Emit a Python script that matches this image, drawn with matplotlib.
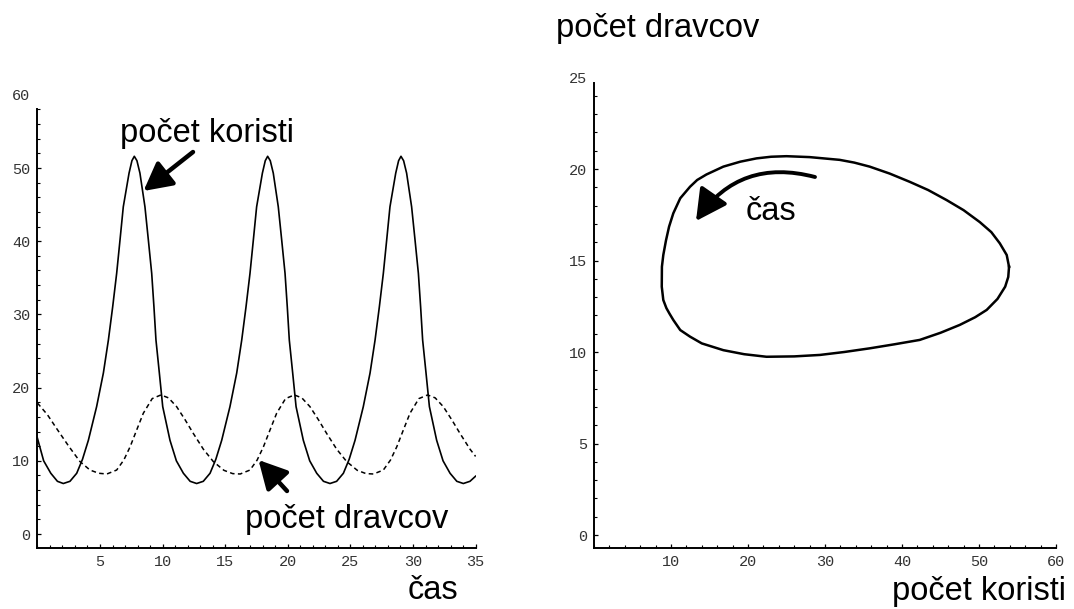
import matplotlib
matplotlib.use("Agg")
import matplotlib.pyplot as plt
from matplotlib.patches import FancyArrowPatch
from matplotlib.ticker import MultipleLocator, FixedLocator

# ---------------- data ----------------
# time series: prey (solid)
prey_t = [0.0, 0.5, 1.07, 1.6, 2.07, 2.6, 3.14, 3.6, 4.07, 4.73, 5.27, 5.67, 6.01, 6.33, 6.60,
          6.86, 7.32, 7.55, 7.74, 7.95, 8.19, 8.59, 8.86, 9.13, 9.31, 9.47, 9.74, 10.01, 10.59,
          11.1, 11.66, 12.2, 12.72,
          13.25, 13.79, 14.25, 14.72, 15.38, 15.92, 16.32, 16.66, 16.98, 17.25, 17.51, 17.97,
          18.2, 18.39, 18.6, 18.84, 19.24, 19.51, 19.78, 19.96, 20.12, 20.39, 20.66, 21.24,
          21.75, 22.31, 22.85, 23.37,
          23.9, 24.44, 24.9, 25.37, 26.03, 26.57, 26.97, 27.31, 27.63, 27.9, 28.16, 28.62,
          28.85, 29.04, 29.25, 29.49, 29.89, 30.16, 30.43, 30.61, 30.77, 31.04, 31.31, 31.89,
          32.4, 32.96, 33.5, 34.02, 34.55, 35.0]
prey_v = [13.1, 10.0, 8.3, 7.2, 6.9, 7.2, 8.3, 10.2, 12.8, 17.4, 22.0, 26.5, 31.0, 35.6, 40.2,
          44.7, 49.3, 51.0, 51.6, 51.0, 49.3, 44.7, 40.2, 35.6, 31.0, 26.5, 22.0, 17.4, 12.8,
          10.0, 8.3, 7.2, 6.9,
          7.2, 8.3, 10.2, 12.8, 17.4, 22.0, 26.5, 31.0, 35.6, 40.2, 44.7, 49.3,
          51.0, 51.6, 51.0, 49.3, 44.7, 40.2, 35.6, 31.0, 26.5, 22.0, 17.4, 12.8,
          10.0, 8.3, 7.2, 6.9,
          7.2, 8.3, 10.2, 12.8, 17.4, 22.0, 26.5, 31.0, 35.6, 40.2, 44.7, 49.3,
          51.0, 51.6, 51.0, 49.3, 44.7, 40.2, 35.6, 31.0, 26.5, 22.0, 17.4, 12.8,
          10.0, 8.3, 7.2, 6.9, 7.2, 7.9]

# time series: predators (dashed)
pred_t = [0.0, 0.8, 1.54, 2.5, 3.4, 4.2, 4.9, 5.55, 6.33, 6.9, 7.4, 7.95, 8.46, 9.17, 9.87, 10.47,
          11.12, 11.8, 12.45, 13.25, 14.05, 14.9, 15.6, 16.2,
          16.98, 17.55, 18.05, 18.6, 19.11, 19.82, 20.52, 21.12, 21.77, 22.45, 23.1, 23.9, 24.7,
          25.55, 26.25, 26.85,
          27.63, 28.2, 28.7, 29.25, 29.76, 30.47, 31.17, 31.77, 32.42, 33.1, 33.75, 34.55, 35.0]
pred_v = [17.9, 16.3, 14.4, 12.0, 9.9, 8.74, 8.3, 8.2, 8.74, 10.1, 11.9, 14.3, 16.5, 18.5, 19.0, 18.6,
          17.4, 15.6, 13.75, 11.6, 9.9, 8.7, 8.25, 8.2,
          8.74, 10.1, 11.9, 14.3, 16.5, 18.5, 19.0, 18.6, 17.4, 15.6, 13.75, 11.6, 9.9,
          8.7, 8.25, 8.2,
          8.74, 10.1, 11.9, 14.3, 16.5, 18.5, 19.0, 18.6, 17.4, 15.6, 13.75, 11.6, 10.6]

# phase portrait: prey (x) vs predators (y)
phase_prey = [53.9, 53.6, 52.7, 51.6, 50.1, 48.0, 45.8, 43.4, 41.0, 38.4, 35.8, 33.8, 31.9, 28.0,
              25.0, 23.0, 21.1, 19.0, 16.8, 14.6, 13.4, 12.47, 11.2, 10.3, 9.75, 9.35, 9.0, 8.82,
              8.8, 9.0, 9.4, 9.8, 10.3, 11.2, 12.47, 14.0, 16.8, 19.5, 22.4, 26.0, 29.35, 32.5,
              35.8, 39.0, 42.3, 45.0, 47.5, 49.5, 51.0, 52.4, 53.4, 53.8, 53.9]
phase_pred = [14.66, 15.3, 15.94, 16.55, 17.1, 17.75, 18.3, 18.85, 19.3, 19.75, 20.13, 20.35, 20.5, 20.65,
              20.7, 20.67, 20.58, 20.4, 20.13, 19.7, 19.4, 19.03, 18.4, 17.58, 16.85, 16.1, 15.3, 14.66,
              13.57, 12.84, 12.4, 12.1, 11.75, 11.2, 10.84, 10.47, 10.1, 9.88, 9.74, 9.76, 9.84, 10.0,
              10.2, 10.42, 10.66, 11.05, 11.48, 11.9, 12.3, 12.9, 13.57, 14.1, 14.66]

left_xticks = [5, 10, 15, 20, 25, 30, 35]
left_yticks = [0, 10, 20, 30, 40, 50, 60]
right_xticks = [10, 20, 30, 40, 50, 60]
right_yticks = [0, 5, 10, 15, 20, 25]

W, H = 1074, 609
fig = plt.figure(figsize=(W / 100, H / 100), dpi=100)

TICK_FAMILY = "Liberation Mono"
TICK_SIZE = 11
TICK_COLOR = "#333333"


def frange(a, b, step):
    v = a
    while v <= b + 1e-9:
        yield round(v, 6)
        v += step


def style_axes(ax, xmin_minor, ymin_minor, spine_top):
    for s in ("top", "right"):
        ax.spines[s].set_visible(False)
    for s in ("left", "bottom"):
        ax.spines[s].set_linewidth(1.4)
    ax.spines["left"].set_bounds(ax.get_ylim()[0], spine_top)
    ax.xaxis.set_minor_locator(MultipleLocator(xmin_minor))
    ax.yaxis.set_minor_locator(FixedLocator(list(frange(ymin_minor, spine_top, ymin_minor))))
    ax.tick_params(which="major", direction="in", length=3.2, width=0.9, pad=5,
                   colors="black", labelcolor=TICK_COLOR)
    ax.tick_params(which="minor", direction="in", length=2.2, width=0.8)
    for lab in ax.get_xticklabels() + ax.get_yticklabels():
        lab.set_fontfamily(TICK_FAMILY)
        lab.set_fontsize(TICK_SIZE)


# ---------------- left: time series ----------------
ax1 = fig.add_axes([37.4 / W, (H - 548) / H, 438.2 / W, (548 - 87.5) / H])
ax1.plot(prey_t, prey_v, color="black", lw=1.2)
ax1.plot(pred_t, pred_v, color="black", lw=1.1, linestyle=(0, (3.0, 2.2)))
ax1.set_xlim(0, 35)
ax1.set_ylim(-1.91, 61)
ax1.set_xticks(left_xticks)
ax1.set_yticks(left_yticks)
style_axes(ax1, 1, 2, 58)
ax1.yaxis.get_major_ticks()[-1].tick1line.set_visible(False)

# ---------------- right: phase portrait ----------------
ax2 = fig.add_axes([594 / W, (H - 548) / H, 462 / W, (548 - 68.35) / H])
ax2.plot(phase_prey, phase_pred, color="black", lw=1.8, solid_joinstyle="round")
ax2.set_xlim(0, 60)
ax2.set_ylim(-0.71, 25.5)
ax2.set_xticks(right_xticks)
ax2.set_yticks(right_yticks)
style_axes(ax2, 2, 1, 24.7)
ax2.yaxis.get_major_ticks()[-1].tick1line.set_visible(False)

# ---------------- annotations ----------------
big = dict(family="Liberation Sans", size=23.5, color="black")


def ftext(x, y, s, ha="center"):
    fig.text(x / W, 1 - y / H, s, ha=ha, va="baseline", **big)


ftext(207.5, 142, "počet koristi")
ftext(346.7, 528, "počet dravcov")
ftext(432.5, 599, "čas")
ftext(657.5, 37, "počet dravcov")
ftext(979, 600, "počet koristi")
ftext(771, 220, "čas")


def fig_arrow(p0, p1, rad=0.0, hl=14, hw=10, lw=3.0):
    a = FancyArrowPatch((p0[0] / W, 1 - p0[1] / H), (p1[0] / W, 1 - p1[1] / H),
                        transform=fig.transFigure,
                        arrowstyle=f"-|>,head_length={hl},head_width={hw}",
                        connectionstyle=f"arc3,rad={rad}",
                        color="black", lw=lw, shrinkA=0, shrinkB=0,
                        mutation_scale=1)
    fig.add_artist(a)


fig_arrow((193, 152), (143.5, 191), hl=17, hw=9, lw=3.2)
fig_arrow((287, 491), (258.5, 460), hl=17, hw=9, lw=3.2)
fig_arrow((815, 177), (696, 221), rad=0.35, hl=19, hw=10, lw=2.8)

fig.savefig("out.png", dpi=100)
